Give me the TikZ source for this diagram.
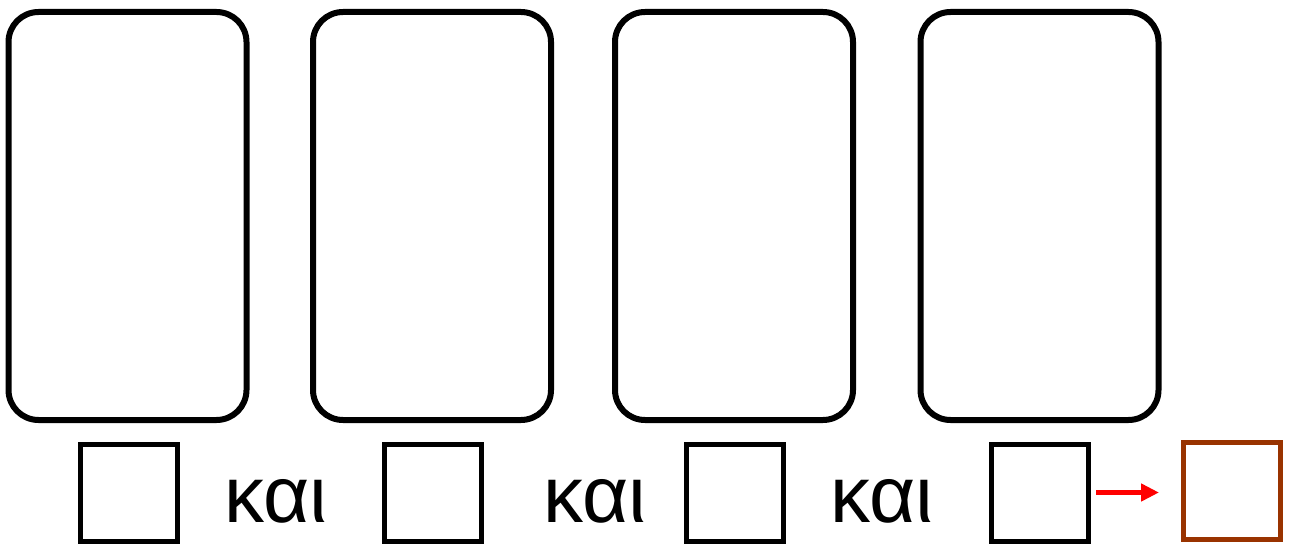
\documentclass[tikz,border=0pt]{standalone}
\usepackage{fontspec}
\setmainfont{Liberation Sans}
\usetikzlibrary{arrows.meta}
\definecolor{brownbox}{RGB}{153,51,0}
\begin{document}
\begin{tikzpicture}[x=1pt,y=-1pt,
  card/.style={draw=black,line width=6pt,rounded corners=30pt,minimum width=238pt,minimum height=408pt,inner sep=0pt},
  sq/.style={draw=black,line width=5pt,minimum width=97pt,minimum height=97pt,inner sep=0pt},
  word/.style={anchor=base,inner sep=0pt,font=\fontsize{80}{90}\selectfont},
  redarrow/.style={draw=red,line width=5.5pt,-{Triangle[length=18pt,width=17pt]}}]
\useasboundingbox (0,0) rectangle (1289,545);
\node[card] (c1) at (127.5,216) {};
\node[card] (c2) at (432,216) {};
\node[card] (c3) at (734,216) {};
\node[card] (c4) at (1039.5,216) {};
\node[sq] (s1) at (128.5,492.5) {};
\node[sq] (s2) at (433,492.5) {};
\node[sq] (s3) at (735,492.5) {};
\node[sq] (s4) at (1040,492.5) {};
\node[sq,draw=brownbox] (s5) at (1232,491) {};
\node[word] (k1) at (276,522) {και};
\node[word] (k2) at (595,522) {και};
\node[word] (k3) at (882,522) {και};
\coordinate (a1) at ([xshift=5pt]s4.east);
\coordinate (a2) at ([xshift=-22pt,yshift=-1.5pt]s5.west);
\draw[redarrow] (a1) -- (a2);
\end{tikzpicture}
\end{document}
